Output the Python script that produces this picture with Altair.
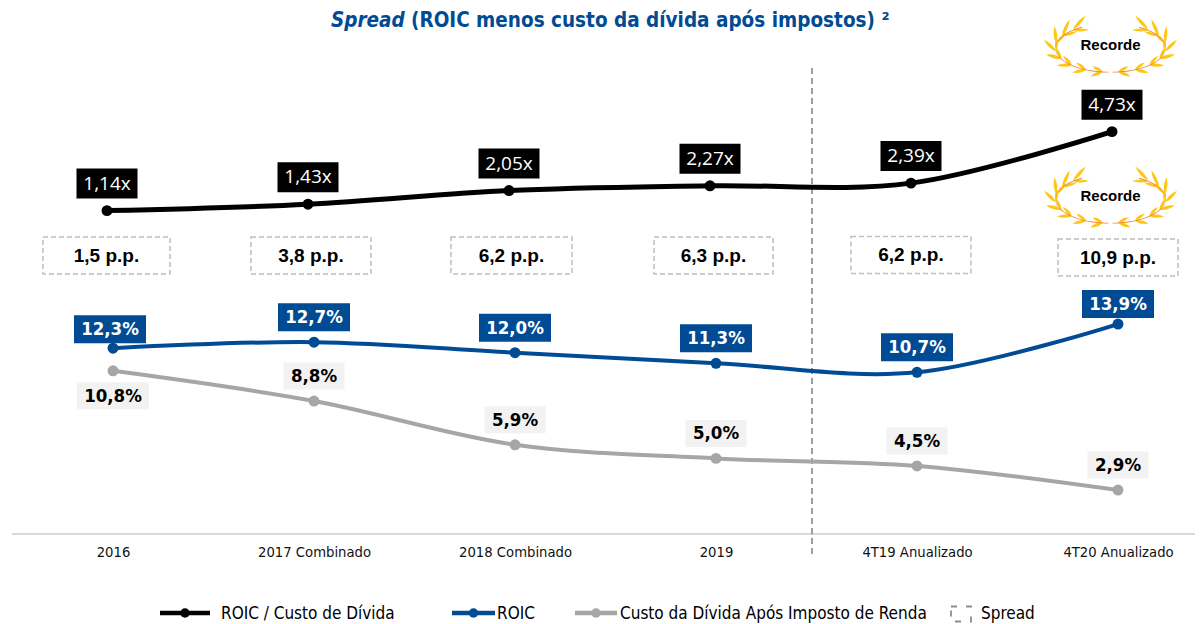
import math
import altair as alt
import pandas as pd

categories = ["2016", "2017 Combinado", "2018 Combinado", "2019", "4T19 Anualizado", "4T20 Anualizado"]
roic_custo = [1.14, 1.43, 2.05, 2.27, 2.39, 4.73]
roic = [12.3, 12.7, 12.0, 11.3, 10.7, 13.9]
custo = [10.8, 8.8, 5.9, 5.0, 4.5, 2.9]
spread = [1.5, 3.8, 6.2, 6.3, 6.2, 10.9]

BLACK = "#000000"
BLUE = "#004B93"
GRAY = "#A6A6A6"
COND = "DejaVu Sans Condensed"
ARIAL = "Liberation Sans"

X = alt.Scale(type="point", domain=categories, range=[105, 1110], padding=0)
Y_RATIO = alt.Scale(domain=[-13.56, 10.35], range=[526, 0])
Y_PCT = alt.Scale(domain=[-0.01, 34.84], range=[526, 0])
ONE = pd.DataFrame({"a": [0]})


def comma(v, digits, suffix):
    return f"{v:.{digits}f}".replace(".", ",") + suffix


def frame(values, digits, suffix):
    return pd.DataFrame({
        "cat": categories,
        "v": values,
        "label": [comma(v, digits, suffix) for v in values],
    })


def xenc(axis=None):
    return alt.X("cat:N", scale=X, axis=axis, title=None)


def series(df, scale, color, width, dx=0):
    enc = dict(x=xenc(), y=alt.Y("v:Q", scale=scale, axis=None))
    line = alt.Chart(df).mark_line(color=color, strokeWidth=width, interpolate="catmull-rom", xOffset=dx).encode(**enc)
    pts = alt.Chart(df).mark_point(color=color, fill=color, filled=True, size=120, opacity=1, xOffset=dx).encode(**enc)
    return [line, pts]


def tag(df, i, scale, fill, w, h, dx, dy, font, size, weight, color):
    row = df.iloc[[i]]
    enc = dict(x=xenc(), y=alt.Y("v:Q", scale=scale, axis=None))
    box = alt.Chart(row).mark_point(
        shape=f"M{-w/2},{-h/2}H{w/2}V{h/2}H{-w/2}Z", filled=True, fill=fill, opacity=1, size=4,
        xOffset=dx, yOffset=dy,
    ).encode(**enc)
    txt = alt.Chart(row).mark_text(
        font=font, fontSize=size, fontWeight=weight, color=color, xOffset=dx, yOffset=dy, baseline="middle",
    ).encode(text="label:N", **enc)
    return [box, txt]


def legend_line(x1, x2, color):
    return [
        alt.Chart(ONE).mark_rule(color=color, strokeWidth=4.5).encode(
            x=alt.value(x1 - 8), x2=alt.value(x2 - 8), y=alt.value(605)),
        alt.Chart(ONE).mark_point(color=color, fill=color, filled=True, size=90, opacity=1).encode(
            x=alt.value((x1 + x2) / 2 - 8), y=alt.value(605)),
    ]


def free_text(text, x, y, font, size, color=BLACK, weight="normal", style="normal", align="left"):
    return alt.Chart(pd.DataFrame({"t": [text]})).mark_text(
        font=font, fontSize=size, fontWeight=weight, fontStyle=style, color=color, align=align, baseline="middle",
    ).encode(x=alt.value(x - 8), y=alt.value(y - 8), text="t:N")


def leaf(bx, by, angle, length, width):
    ca, sa = math.cos(angle), math.sin(angle)
    tx, ty = bx + ca * length, by + sa * length
    mx, my = bx + ca * length * 0.45, by + sa * length * 0.45
    nx, ny = -sa * width, ca * width
    return f"M{bx:.1f},{by:.1f}Q{mx+nx:.1f},{my+ny:.1f},{tx:.1f},{ty:.1f}Q{mx-nx:.1f},{my-ny:.1f},{bx:.1f},{by:.1f}Z"


def laurel_paths():
    leaves, stems = "", ""
    a, b = 53.0, 24.0
    steps = 48
    sweep = 150
    for sign in (-1, 1):
        prev = None
        for k in range(0, steps + 1):
            ang = math.radians(k * sweep / steps)
            x = sign * (a * math.sin(ang) + 2)
            y = b * math.cos(ang) + 2
            if prev:
                stems += f"M{prev[0]:.1f},{prev[1]:.1f}L{x:.1f},{y:.1f}L{x:.1f},{y+0.9:.1f}L{prev[0]:.1f},{prev[1]+0.9:.1f}Z"
            if k % 6 == 2 and prev:
                tang = math.atan2(y - prev[1], x - prev[0])
                turn = 0.42 * sign
                grow = 13 + 7 * (k / steps)
                leaves += leaf(x, y, tang + turn, grow, 3.4) + leaf(x, y, tang - turn, grow * 0.85, 3.0)
            prev = (x, y)
    return leaves, stems


LEAVES, STEMS = laurel_paths()


def laurel(row_df, dx, dy):
    enc = dict(x=xenc(), y=alt.Y("v:Q", scale=Y_RATIO, axis=None))
    return [
        alt.Chart(row_df).mark_point(shape=LEAVES, filled=True, fill="#FFC715", opacity=1, size=4, xOffset=dx, yOffset=dy).encode(**enc),
        alt.Chart(row_df).mark_point(shape=STEMS, filled=True, fill="#F0853A", opacity=1, size=4, xOffset=dx, yOffset=dy).encode(**enc),
        alt.Chart(row_df.assign(label="Recorde")).mark_text(
            font=ARIAL, fontSize=15, fontWeight="bold", color=BLACK, xOffset=dx, yOffset=dy - 1, baseline="middle",
        ).encode(text="label:N", **enc),
    ]


df_ratio = frame(roic_custo, 2, "x")
df_roic = frame(roic, 1, "%")
df_custo = frame(custo, 1, "%")
df_spread = frame(spread, 1, " p.p.")

layers = []

# axis and baseline
layers.append(alt.Chart(df_roic).mark_point(opacity=0).encode(
    x=xenc(alt.Axis(domain=False, ticks=False, grid=False, labelFont=COND, labelFontSize=14.7, labelColor="#111111",
                    labelPadding=18, labelAngle=0, labelBaseline="middle")),
    y=alt.Y("v:Q", scale=Y_PCT, axis=None),
))
layers.append(alt.Chart(ONE).mark_rule(color="#D9D9D9", strokeWidth=2).encode(
    x=alt.value(4), x2=alt.value(1187), y=alt.value(526)))
layers.append(alt.Chart(ONE).mark_rule(color="#7F7F7F", strokeWidth=1.5, strokeDash=[6, 4]).encode(
    x=alt.value(804), y=alt.value(60), y2=alt.value(548)))

# title
layers.append(free_text("Spread", 331, 21, COND, 20.5, BLUE, "bold", "italic"))
layers.append(free_text("(ROIC menos custo da dívida após impostos) ²", 411, 21, COND, 20.5, BLUE, "bold"))

# series
layers += series(df_ratio, Y_RATIO, BLACK, 5, dx=-6)
layers += series(df_roic, Y_PCT, BLUE, 4)
layers += series(df_custo, Y_PCT, GRAY, 4)

# ratio tags
for i in range(6):
    layers += tag(df_ratio, i, Y_RATIO, BLACK, 61, 30, -6, -27, "Open Sans", 19, "normal", "#FFFFFF")

# roic tags
for i in range(6):
    dx, dy = {0: (-3, -19), 5: (0, -20)}.get(i, (0, -25))
    layers += tag(df_roic, i, Y_PCT, BLUE, 72, 28, dx, dy, COND, 18.5, "bold", "#FFFFFF")

# custo tags
for i in range(6):
    dy = 25 if i == 0 else -25
    w = 72 if custo[i] >= 10 else 61
    layers += tag(df_custo, i, Y_PCT, "#F2F2F2", w, 27, 0, dy, COND, 18.5, "bold", BLACK)

# spread boxes
spread_dx = [-6.5, -3, -3.5, -2.5, -6, 0]
spread_y = [255.5, 255.5, 255.5, 255.5, 255, 257.5]
spread_w = [127, 120, 121, 119, 120, 120]
for i in range(6):
    row = df_spread.iloc[[i]]
    w = spread_w[i]
    cx = spread_dx[i]
    layers.append(alt.Chart(row).mark_point(
        shape=f"M{-w/2},-18.5H{w/2}V18.5H{-w/2}Z", filled=False, stroke="#BFBFBF", strokeWidth=1.5, strokeDash=[5, 3],
        opacity=1, size=4, xOffset=cx,
    ).encode(x=xenc(), y=alt.value(spread_y[i] - 8)))
    layers.append(alt.Chart(row).mark_text(
        font=ARIAL, fontSize=19, fontWeight="bold", color=BLACK, xOffset=cx, baseline="middle",
    ).encode(x=xenc(), y=alt.value(spread_y[i] - 8), text="label:N"))

# laurels
last = df_ratio.iloc[[5]]
layers += laurel(last, -7.5, -86)
layers += laurel(last, -7.5, 65)

# legend
layers += legend_line(160, 210, BLACK)
layers.append(free_text("ROIC / Custo de Dívida", 221, 614, COND, 17))
layers += legend_line(452, 495, BLUE)
layers.append(free_text("ROIC", 497, 614, COND, 17))
layers += legend_line(575, 617, GRAY)
layers.append(free_text("Custo da Dívida Após Imposto de Renda", 620, 614, COND, 17))
layers.append(alt.Chart(ONE).mark_point(
    shape="M-10,-7.5H10V7.5H-10Z", filled=False, stroke="#8C8C8C", strokeWidth=1.8, strokeDash=[6, 9],
    opacity=1, size=4).encode(x=alt.value(953), y=alt.value(606)))
layers.append(free_text("Spread", 981, 614, COND, 17))

chart = alt.layer(*layers).resolve_scale(y="independent").resolve_axis(x="independent").properties(
    width=1187, height=526,
    padding={"left": 0, "top": 0, "right": 0, "bottom": 90},
    autosize=alt.AutoSizeParams(type="none"),
).configure_view(stroke=None)

chart.save("out.html", embed_options={"renderer": "svg", "actions": False})
